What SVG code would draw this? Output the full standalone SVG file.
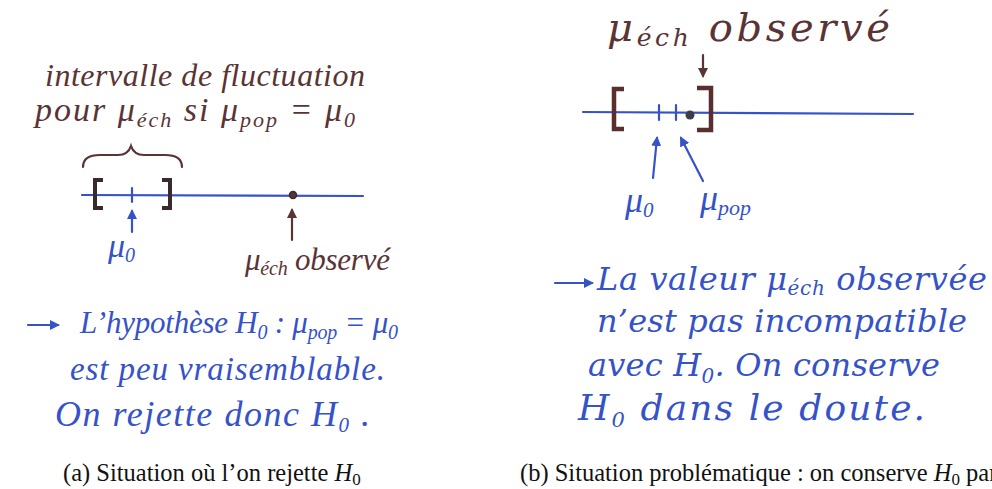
<svg xmlns="http://www.w3.org/2000/svg" width="992" height="489" viewBox="0 0 992 489">
<defs>
<style>
.hw{font-family:"Liberation Serif","DejaVu Serif",serif;font-style:italic}
.hw2{font-family:"DejaVu Serif","Liberation Serif",serif;font-style:italic}
.blue{fill:#3552c8}
.brown{fill:#5a3434}
.cap{font-family:"Liberation Serif","Times New Roman",serif;font-size:24.5px;fill:#111}
.bl{stroke:#3552c8;stroke-width:2.2;fill:none;stroke-linecap:round}
.br{stroke:#5a3434;stroke-width:2.2;fill:none;stroke-linecap:round}
.brk{stroke:#3a2a2e;stroke-width:4;fill:none;stroke-linejoin:miter}
.brk2{stroke:#5a2e2e;stroke-width:4.5;fill:none;stroke-linejoin:miter}
</style>
<marker id="ab" markerWidth="10" markerHeight="10" refX="8" refY="5" orient="auto" markerUnits="userSpaceOnUse"><path d="M0,0 L10,5 L0,10 Z" fill="#3552c8"/></marker>
<marker id="ar" markerWidth="10" markerHeight="10" refX="8" refY="5" orient="auto" markerUnits="userSpaceOnUse"><path d="M0,0 L10,5 L0,10 Z" fill="#5a3434"/></marker>
</defs>
<rect width="992" height="489" fill="#ffffff"/>

<!-- Panel (a) -->
<g id="a-title">
<text class="hw brown" x="45" y="86" font-size="32" textLength="320" lengthAdjust="spacing">intervalle de fluctuation</text>
<text class="hw brown" x="35" y="121" font-size="34" textLength="320" lengthAdjust="spacing">pour μ<tspan font-size="22" dy="6">éch</tspan><tspan dy="-6"> si μ</tspan><tspan font-size="22" dy="6">pop</tspan><tspan dy="-6"> = μ</tspan><tspan font-size="22" dy="6">0</tspan></text>
</g>
<g id="a-brace"><path class="br" d="M83,167 Q83,155 100,155 L118,155 Q128,155 131,146 Q134,155 144,155 L165,155 Q182,155 182,167"/></g>
<g id="a-axis">
<line class="bl" x1="82" y1="195" x2="363" y2="196"/>
<path class="brk" d="M103,180 L95,180 L95,208 L103,208"/>
<path class="brk" d="M162,180 L170,180 L170,208 L162,208"/>
<line class="bl" x1="132" y1="188" x2="132" y2="202" stroke-width="3"/>
<circle cx="293" cy="195" r="3.5" fill="#5a3434" stroke="#3a2a2e" stroke-width="1.5"/>
</g>
<g id="a-mu0"><text class="hw blue" x="108" y="257" font-size="34">μ<tspan font-size="20" dy="5">0</tspan></text></g>
<g id="a-mech"><text class="hw brown" x="245" y="270" font-size="31" textLength="145" lengthAdjust="spacing">μ<tspan font-size="20" dy="5">éch</tspan><tspan dy="-5"> observé</tspan></text></g>
<g id="a-conclusion">
<text class="hw blue" x="80" y="333" font-size="31" textLength="318" lengthAdjust="spacing">L’hypothèse H<tspan font-size="20" dy="6">0</tspan><tspan dy="-6"> : μ</tspan><tspan font-size="20" dy="6">pop</tspan><tspan dy="-6"> = μ</tspan><tspan font-size="20" dy="6">0</tspan></text>
<text class="hw blue" x="70" y="380" font-size="33" textLength="315" lengthAdjust="spacing">est peu vraisemblable.</text>
<text class="hw blue" x="55" y="426" font-size="36" textLength="315" lengthAdjust="spacing">On rejette donc H<tspan font-size="21" dy="6">0</tspan><tspan dy="-6"> .</tspan></text>
</g>
<g id="a-caption"><text class="cap" x="63" y="481">(a)  Situation où l’on rejette <tspan font-style="italic">H</tspan><tspan font-size="17" dy="4">0</tspan></text></g>

<!-- Panel (b) -->
<g id="b-mech"><text class="hw2 brown" x="607" y="41" font-size="40" textLength="283" lengthAdjust="spacing">μ<tspan font-size="25" dy="5">éch</tspan><tspan dy="-5"> observé</tspan></text></g>
<g id="b-axis">
<line class="bl" x1="583" y1="112" x2="913" y2="114"/>
<path class="brk2" d="M624,89 L614,89 L614,129 L624,129"/>
<path class="brk2" d="M697,88 L711,88 L711,130 L697,130"/>
<line class="bl" x1="659" y1="105" x2="659" y2="120" stroke-width="3.5"/>
<line class="bl" x1="676" y1="105" x2="676" y2="120" stroke-width="3.5"/>
<circle cx="690" cy="115" r="4.5" fill="#3d3d4a"/>
</g>
<g id="b-mu0"><text class="hw blue" x="625" y="212" font-size="36">μ<tspan font-size="21" dy="5">0</tspan></text></g>
<g id="b-mupop"><text class="hw blue" x="700" y="210" font-size="36">μ<tspan font-size="22" dy="5">pop</tspan></text></g>
<g id="b-conclusion">
<text class="hw2 blue" x="597" y="290" font-size="32" textLength="390" lengthAdjust="spacing">La valeur μ<tspan font-size="20" dy="5">éch</tspan><tspan dy="-5"> observée</tspan></text>
<text class="hw2 blue" x="597" y="332" font-size="32" textLength="370" lengthAdjust="spacing">n’est pas incompatible</text>
<text class="hw2 blue" x="588" y="376" font-size="32" textLength="352" lengthAdjust="spacing">avec H<tspan font-size="20" dy="7">0</tspan><tspan dy="-7">. On conserve</tspan></text>
<text class="hw2 blue" x="578" y="420" font-size="36" textLength="347" lengthAdjust="spacing">H<tspan font-size="21" dy="7">0</tspan><tspan dy="-7"> dans le doute.</tspan></text>
</g>
<g id="b-caption"><text class="cap" x="520" y="481">(b)  Situation problématique : on conserve <tspan font-style="italic">H</tspan><tspan font-size="17" dy="4">0</tspan><tspan dy="-4"> par</tspan></text></g>

<!-- Connectors -->
<g id="connectors">
<line class="bl" x1="132" y1="232" x2="132" y2="211" marker-end="url(#ab)"/>
<line class="br" x1="292" y1="240" x2="292" y2="210" marker-end="url(#ar)"/>
<line class="bl" x1="28" y1="325" x2="58" y2="325" marker-end="url(#ab)"/>
<line class="br" x1="703" y1="55" x2="703" y2="76" marker-end="url(#ar)"/>
<line class="bl" x1="653" y1="178" x2="657" y2="138" marker-end="url(#ab)"/>
<line class="bl" x1="703" y1="181" x2="681" y2="138" marker-end="url(#ab)"/>
<line class="bl" x1="555" y1="283" x2="592" y2="283" marker-end="url(#ab)"/>
</g>
</svg>
